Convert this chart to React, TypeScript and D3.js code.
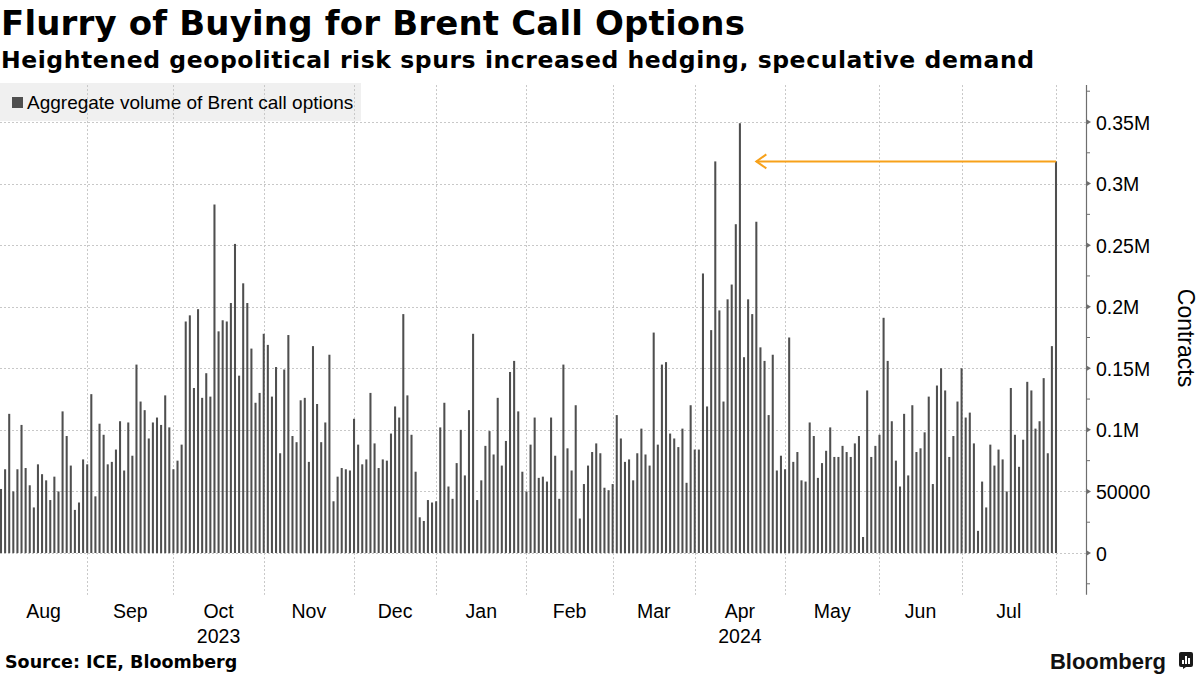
import React from 'react';
import * as d3 from 'd3';

// daily aggregate volume of Brent call options, thousands of contracts (Aug 2023 - Aug 1 2024)
const volumes = [
  52, 68, 113, 50, 68, 104, 69, 55, 37, 72,
  64, 59, 43, 62, 50, 115, 95, 71, 35, 41,
  76, 72, 129, 46, 105, 96, 72, 74, 84, 107,
  67, 106, 79, 153, 123, 116, 93, 106, 110, 104,
  128, 102, 68, 75,
  88, 188, 193, 134, 198, 126, 146, 127, 283, 180,
  189, 188, 203, 251, 144, 219, 203, 166, 122, 130,
  178, 169, 127, 151, 81, 149, 177, 95, 90, 124,
  126, 74, 168, 121, 90, 106, 161, 42, 62, 69,
  68, 67, 109,
  88, 72, 76, 130, 89, 69, 76, 75, 97, 119,
  110, 194, 128, 96, 66, 29, 26, 43, 41, 42,
  102, 122, 54, 44, 73, 100, 63, 116, 178, 43,
  59, 87, 99, 80, 126, 71, 91, 147, 156, 115,
  66, 50, 88,
  110, 61, 62, 58, 110, 79, 44, 153, 85, 67,
  120, 28, 56, 71, 82, 89, 81, 53, 51, 56,
  112, 93, 74, 76, 59, 81, 101, 80, 71, 179,
  88, 153, 155, 97, 93, 86, 101, 57, 120, 84,
  84, 227,
  119, 181, 318, 197, 123, 206, 218, 267, 349, 159,
  206, 194, 269, 167, 156, 112, 161, 67, 79, 68,
  175, 74, 82, 59, 58, 106, 95, 61, 73, 83,
  102, 78, 78, 87, 82, 78, 89, 95, 13, 132,
  78, 87, 96,
  191, 156, 107, 75, 54, 113, 63, 120, 82, 85,
  98, 127, 56, 136, 150, 132, 78, 95, 123, 150,
  110, 114, 89, 18, 58, 37, 88, 71, 84, 76,
  50, 134, 96, 70, 92, 139, 132, 101, 107, 142,
  81, 168, 318,
];

// index of first trading day of each following month (month boundaries)
const monthBreaks = [21, 42, 64, 86, 106, 128, 149, 169, 191, 214, 234, 257];
const monthLabels = ['Aug', 'Sep', 'Oct', 'Nov', 'Dec', 'Jan', 'Feb', 'Mar', 'Apr', 'May', 'Jun', 'Jul'];
const yearLabels: Record<string, string> = { Oct: '2023', Apr: '2024' };

const yTicks = [0, 50000, 100000, 150000, 200000, 250000, 300000, 350000];
const yMinorTicks = [-25000, 25000, 75000, 125000, 175000, 225000, 275000, 325000, 375000];

// annotation arrow: from the latest bar back to the April peak
const arrowFrom = 257;
const arrowTo = 184;

const W = 1200;
const H = 675;
const FONT = '"Liberation Sans", Arial, sans-serif';
const BOLD = '"DejaVu Sans", Verdana, sans-serif';

export default function App() {
  const plotRight = 1086;
  const idx = volumes.map((_, i) => i);

  const x = d3.scaleBand<number>()
    .domain(idx)
    .range([-1.05, 1058.05])
    .paddingInner(0.5)
    .paddingOuter(0.25);
  const cx = (i: number) => (x(i) ?? 0) + x.bandwidth() / 2;

  const y = d3.scaleLinear().domain([0, 350000]).range([553, 122]);
  const yTop = y(380000);
  const yBottom = y(-34000);

  const fmt = (v: number) => (v === 0 ? '0' : v < 100000 ? String(v) : `${v / 1e6}M`);

  const bounds = [0, ...monthBreaks.map(cx)];
  const arrowY = y(volumes[arrowFrom] * 1000);
  const tipX = cx(arrowTo);

  return (
    <div style={{ position: 'absolute', left: 0, top: 0 }}>
      <svg width={W} height={H} viewBox={`0 0 ${W} ${H}`} style={{ display: 'block', background: '#fff' }}>
        {/* titles */}
        <text x={1} y={35} fontFamily={BOLD} fontWeight={700} fontSize={34} fill="#000" textLength={744}>
          Flurry of Buying for Brent Call Options
        </text>
        <text x={1} y={68} fontFamily={BOLD} fontWeight={700} fontSize={23.5} fill="#000" textLength={1033}>
          Heightened geopolitical risk spurs increased hedging, speculative demand
        </text>

        {/* legend background */}
        <rect x={0} y={83} width={361} height={38} fill="#f0f0f0" />

        {/* grid */}
        <g stroke="#c8c8c8" strokeWidth={1} strokeDasharray="2,2">
          {yTicks.map((t) => (
            <line key={'h' + t} x1={0} x2={plotRight} y1={Math.round(y(t)) + 0.5} y2={Math.round(y(t)) + 0.5} />
          ))}
          {monthBreaks.map((b) => (
            <line key={'v' + b} x1={Math.round(cx(b)) + 0.5} x2={Math.round(cx(b)) + 0.5} y1={yTop} y2={yBottom} />
          ))}
        </g>

        {/* legend */}
        <rect x={12} y={97} width={11} height={11} fill="#4f4f4f" />
        <text x={27} y={109} fontFamily={FONT} fontSize={19} fill="#000">
          Aggregate volume of Brent call options
        </text>

        {/* bars */}
        <g fill="#4f4f4f">
          {volumes.map((v, i) => (
            <rect key={i} x={x(i)} y={y(v * 1000)} width={x.bandwidth()} height={y(0) - y(v * 1000)} />
          ))}
        </g>

        {/* annotation arrow */}
        <g stroke="#f7a11a" strokeWidth={2} fill="none">
          <line x1={cx(arrowFrom)} x2={tipX} y1={arrowY} y2={arrowY} />
          <polyline points={`${tipX + 10},${arrowY - 7} ${tipX},${arrowY} ${tipX + 10},${arrowY + 7}`} />
        </g>

        {/* right axis */}
        <line x1={plotRight + 0.5} x2={plotRight + 0.5} y1={yTop} y2={yBottom} stroke="#6e6e6e" strokeWidth={1.2} />
        {yMinorTicks.map((t) => (
          <line key={'m' + t} x1={plotRight} x2={plotRight + 4} y1={y(t)} y2={y(t)} stroke="#6e6e6e" />
        ))}
        {yTicks.map((t) => (
          <g key={'t' + t}>
            <path d={`M${plotRight},${y(t) - 3} L${plotRight + 5},${y(t)} L${plotRight},${y(t) + 3} Z`} fill="#6e6e6e" />
            <text x={plotRight + 10} y={y(t) + 7.5} fontFamily={FONT} fontSize={19.5} fill="#000">
              {fmt(t)}
            </text>
          </g>
        ))}
        <text
          transform={`translate(1178,338) rotate(90)`}
          textAnchor="middle"
          fontFamily={FONT}
          fontSize={23}
          fill="#000"
        >
          Contracts
        </text>

        {/* month labels */}
        {monthLabels.map((m, k) => {
          const mid = (bounds[k] + bounds[k + 1]) / 2;
          return (
            <g key={m}>
              <text x={mid} y={618} textAnchor="middle" fontFamily={FONT} fontSize={19.5} fill="#000">
                {m}
              </text>
              {yearLabels[m] && (
                <text x={mid} y={643} textAnchor="middle" fontFamily={FONT} fontSize={19.5} fill="#000">
                  {yearLabels[m]}
                </text>
              )}
            </g>
          );
        })}

        {/* footer */}
        <text x={5} y={668} fontFamily={BOLD} fontWeight={700} fontSize={17.5} fill="#000">
          Source: ICE, Bloomberg
        </text>
        <text x={1166} y={669} textAnchor="end" fontFamily={FONT} fontWeight={700} fontSize={22} fill="#111">
          Bloomberg
        </text>
        <g>
          <rect x={1179} y={652} width={14} height={15} rx={2} fill="#1a1a1a" />
          <path d="M1183,669 L1186,667 L1183,667 Z" fill="#1a1a1a" />
          <rect x={1182} y={660} width={2} height={4} fill="#fff" />
          <rect x={1185} y={656} width={2} height={8} fill="#fff" />
          <rect x={1188} y={658} width={2} height={6} fill="#fff" />
        </g>
      </svg>
    </div>
  );
}
